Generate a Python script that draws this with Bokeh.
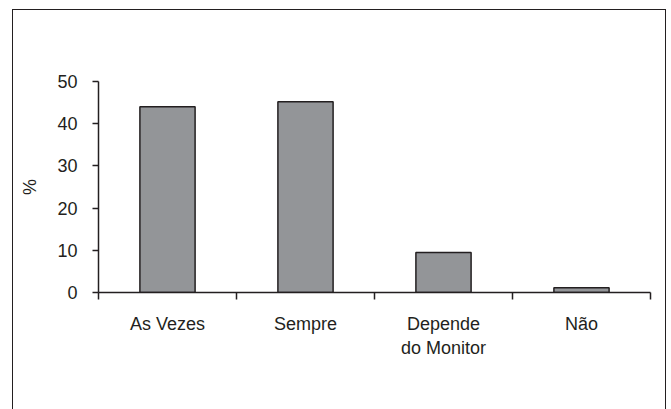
from bokeh.plotting import figure
from bokeh.models import FixedTicker, Range1d, InlineStyleSheet
from bokeh.embed import file_html
from bokeh.resources import INLINE

categories = ["As Vezes", "Sempre", "Depende\ndo Monitor", "Não"]
values = [44.0, 45.2, 9.5, 1.1]
y_ticks = [0, 10, 20, 30, 40, 50]

xs = [i + 0.5 for i in range(len(categories))]
FONT = "Liberation Sans"
INK = "#231f20"

p = figure(frame_width=552, frame_height=211, output_backend="svg", toolbar_location=None,
           x_range=Range1d(0, len(categories)), y_range=Range1d(0, 50),
           min_border_left=98, min_border_right=21, min_border_top=81, min_border_bottom=117)
p.outline_line_color = None
p.xgrid.visible = False
p.ygrid.visible = False

p.vbar(x=xs, top=values, width=0.4, fill_color="#939598", line_color=INK, line_width=1.5)

# x axis: ticks at category boundaries (minor), labels at centers (major)
p.xaxis.ticker = FixedTicker(ticks=xs, minor_ticks=list(range(len(categories) + 1)))
p.xaxis.major_label_overrides = {x: c for x, c in zip(xs, categories)}
p.xaxis.major_tick_out = 0
p.xaxis.major_tick_in = 0
p.xaxis.minor_tick_out = 7
p.xaxis.minor_tick_in = 0
p.xaxis.minor_tick_line_color = INK
p.xaxis.minor_tick_line_width = 1.5
p.xaxis.major_label_standoff = 14
p.xaxis.axis_line_color = INK
p.xaxis.axis_line_width = 1.5
p.xaxis.major_label_text_font = FONT
p.xaxis.major_label_text_font_size = "18px"
p.xaxis.major_label_text_color = INK

p.yaxis.ticker = FixedTicker(ticks=y_ticks)
p.yaxis.minor_tick_line_color = None
p.yaxis.major_tick_out = 6
p.yaxis.major_tick_in = 0
p.yaxis.major_tick_line_color = INK
p.yaxis.major_tick_line_width = 1.5
p.yaxis.axis_line_color = INK
p.yaxis.axis_line_width = 1.5
p.yaxis.major_label_standoff = 15
p.yaxis.major_label_text_font = FONT
p.yaxis.major_label_text_font_size = "18px"
p.yaxis.major_label_text_color = INK
p.yaxis.axis_label = "%"
p.yaxis.axis_label_text_font = FONT
p.yaxis.axis_label_text_font_size = "18px"
p.yaxis.axis_label_text_font_style = "normal"
p.yaxis.axis_label_text_color = INK
p.yaxis.axis_label_standoff = 14

# outer frame of the chart area (open at the bottom, like the reference)
p.stylesheets = [InlineStyleSheet(css="""
:host { position: relative; }
:host::after {
  content: "";
  position: absolute;
  left: 12px; top: 9px; width: 652px; height: 420px;
  border: 1.5px solid #231f20;
  pointer-events: none;
}
""")]

open("out.html", "w").write(file_html(p, INLINE))
